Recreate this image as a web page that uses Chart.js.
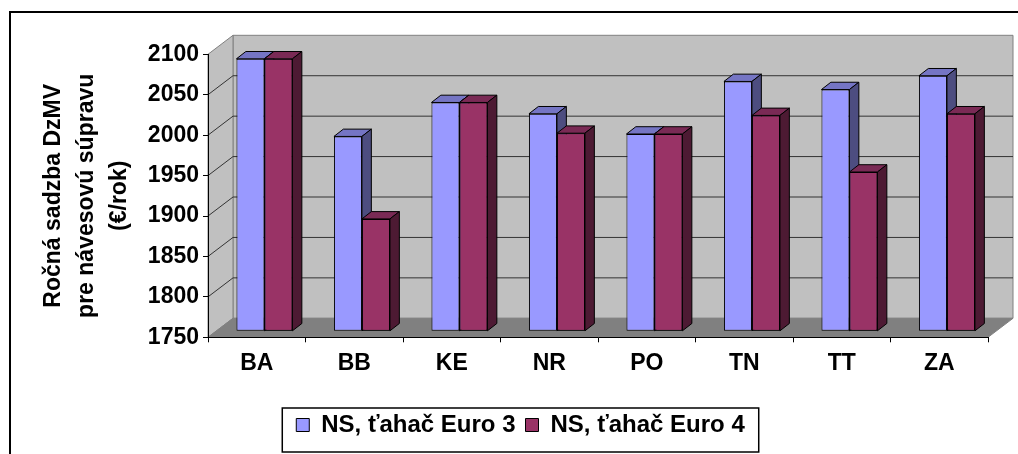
<!DOCTYPE html>
<html lang="sk">
<head>
<meta charset="UTF-8">
<title>Ročná sadzba DzMV</title>
<script src="https://cdn.jsdelivr.net/npm/chart.js"></script>
<style>
  html, body { margin: 0; padding: 0; background: #fff; }
  canvas { display: block; }
</style>
</head>
<body>
<canvas id="chart" width="1018" height="454"></canvas>
<script>
// data
const categories = ["BA", "BB", "KE", "NR", "PO", "TN", "TT", "ZA"];
const euro3 = [2087, 1991, 2033, 2019, 1994, 2059, 2049, 2066];
const euro4 = [2087, 1889, 2033, 1995, 1994, 2017, 1947, 2019];
const seriesNames = ["NS, ťahač Euro 3", "NS, ťahač Euro 4"];
const yMin = 1750, yMax = 2100, yStep = 50;
const yTitle = ["Ročná sadzba DzMV", "pre návesovú súpravu", "(€/rok)"];

const FONT = '"Liberation Sans", Arial, sans-serif';
const FRONT = ["#9999ff", "#993366"];
const TOP = ["#7575c4", "#7a2a55"];
const SIDE = ["#4d4d80", "#4d1a33"];

// 3d offsets (px)
const WALL = { dx: 25, dy: -19 };
const SHIFT = { dx: 7.7, dy: -6 };
const DEPTH = { dx: 9.4, dy: -7.3 };

function poly(ctx, pts, fill, stroke) {
  ctx.beginPath();
  pts.forEach((p, i) => i ? ctx.lineTo(p[0], p[1]) : ctx.moveTo(p[0], p[1]));
  ctx.closePath();
  if (fill) { ctx.fillStyle = fill; ctx.fill(); }
  if (stroke) { ctx.strokeStyle = stroke; ctx.lineWidth = 1; ctx.stroke(); }
}

function barFaces(ctx, bar, ds) {
  const { x, y, base, width } = bar.getProps(["x", "y", "base", "width"], true);
  const l = x - width / 2, r = x + width / 2;
  const dx = DEPTH.dx, dy = DEPTH.dy;
  poly(ctx, [[l, y], [r, y], [r + dx, y + dy], [l + dx, y + dy]], TOP[ds], "#000");
  poly(ctx, [[r, y], [r + dx, y + dy], [r + dx, base + dy], [r, base]], SIDE[ds], "#000");
}

const box3d = {
  id: "box3d",
  beforeDraw(chart) {
    const { ctx, chartArea: a } = chart;
    const ys = chart.scales.y;
    const top = ys.getPixelForValue(yMax), bot = ys.getPixelForValue(yMin);
    const x0 = a.left, x1 = a.right, dx = WALL.dx, dy = WALL.dy;
    ctx.save();
    // outer frame
    ctx.lineWidth = 2;
    ctx.strokeStyle = "#000";
    ctx.strokeRect(10, 12, chart.width + 20, chart.height + 20);
    // walls and floor
    poly(ctx, [[x0 + dx, top + dy], [x1 + dx, top + dy], [x1 + dx, bot + dy], [x0 + dx, bot + dy]], "#c0c0c0", "#808080");
    poly(ctx, [[x0, top], [x0 + dx, top + dy], [x0 + dx, bot + dy], [x0, bot]], "#c0c0c0", "#808080");
    poly(ctx, [[x0, bot], [x1, bot], [x1 + dx, bot + dy], [x0 + dx, bot + dy]], "#808080", "#808080");
    // grid lines on side and back walls
    ctx.strokeStyle = "#333";
    ctx.lineWidth = 1;
    ys.ticks.forEach(t => {
      if (t.value <= yMin || t.value >= yMax) return;
      const py = ys.getPixelForValue(t.value);
      ctx.beginPath();
      ctx.moveTo(x0, py);
      ctx.lineTo(x0 + dx, py + dy);
      ctx.lineTo(x1 + dx, py + dy);
      ctx.stroke();
    });
    ctx.restore();
  },
  beforeDatasetsDraw(chart) {
    chart.ctx.save();
    chart.ctx.translate(SHIFT.dx, SHIFT.dy);
  },
  afterDatasetsDraw(chart) {
    const ctx = chart.ctx;
    const m0 = chart.getDatasetMeta(0), m1 = chart.getDatasetMeta(1);
    m0.data.forEach((bar, i) => {
      barFaces(ctx, bar, 0);
      m1.data[i].draw(ctx);
      barFaces(ctx, m1.data[i], 1);
    });
    ctx.restore();
  },
  afterDraw(chart) {
    const { ctx, legend } = chart;
    const pad = legend.options.labels.padding;
    const w = legend.lineWidths[0] - pad;
    const cx = (legend.left + legend.right) / 2;
    ctx.save();
    ctx.lineWidth = 1.5;
    ctx.strokeStyle = "#000";
    ctx.strokeRect(cx - w / 2 - 14, legend.top + 5, w + 28, 44);
    ctx.restore();
  }
};

new Chart(document.getElementById("chart"), {
  type: "bar",
  data: {
    labels: categories,
    datasets: [
      { label: seriesNames[0], data: euro3, backgroundColor: FRONT[0] },
      { label: seriesNames[1], data: euro4, backgroundColor: FRONT[1] }
    ]
  },
  options: {
    responsive: false,
    animation: false,
    layout: { padding: { left: 53, right: 30, top: 54.3, bottom: 7 } },
    datasets: {
      bar: {
        base: yMin,
        borderColor: "#000",
        borderWidth: 1,
        borderSkipped: false,
        barPercentage: 1,
        categoryPercentage: 0.5744
      }
    },
    plugins: {
      tooltip: { enabled: false },
      legend: {
        position: "bottom",
        labels: {
          color: "#000",
          font: { family: FONT, size: 24, weight: "bold" },
          boxWidth: 13,
          boxHeight: 13,
          padding: 10
        }
      }
    },
    scales: {
      x: {
        grid: { drawOnChartArea: false, drawTicks: true, tickLength: 5, color: "#000" },
        border: { color: "#000", width: 1 },
        ticks: { color: "#000", padding: 7.5, font: { family: FONT, size: 23, weight: "bold" } },
        afterFit: s => { s.height = 65.7; }
      },
      y: {
        min: yMin,
        max: yMax,
        grid: { drawOnChartArea: false, drawTicks: true, tickLength: 5, color: "#000" },
        border: { color: "#000", width: 1 },
        ticks: {
          stepSize: yStep,
          color: "#000",
          padding: 4,
          font: { family: FONT, size: 23, weight: "bold" },
          callback: v => String(v)
        },
        title: {
          display: true,
          text: yTitle,
          color: "#000",
          font: { family: FONT, size: 23, weight: "bold", lineHeight: 1.435 },
          padding: { top: -16, bottom: 0 }
        },
        afterFit: s => { s.width = 155; }
      }
    }
  },
  plugins: [box3d]
});
</script>
</body>
</html>
